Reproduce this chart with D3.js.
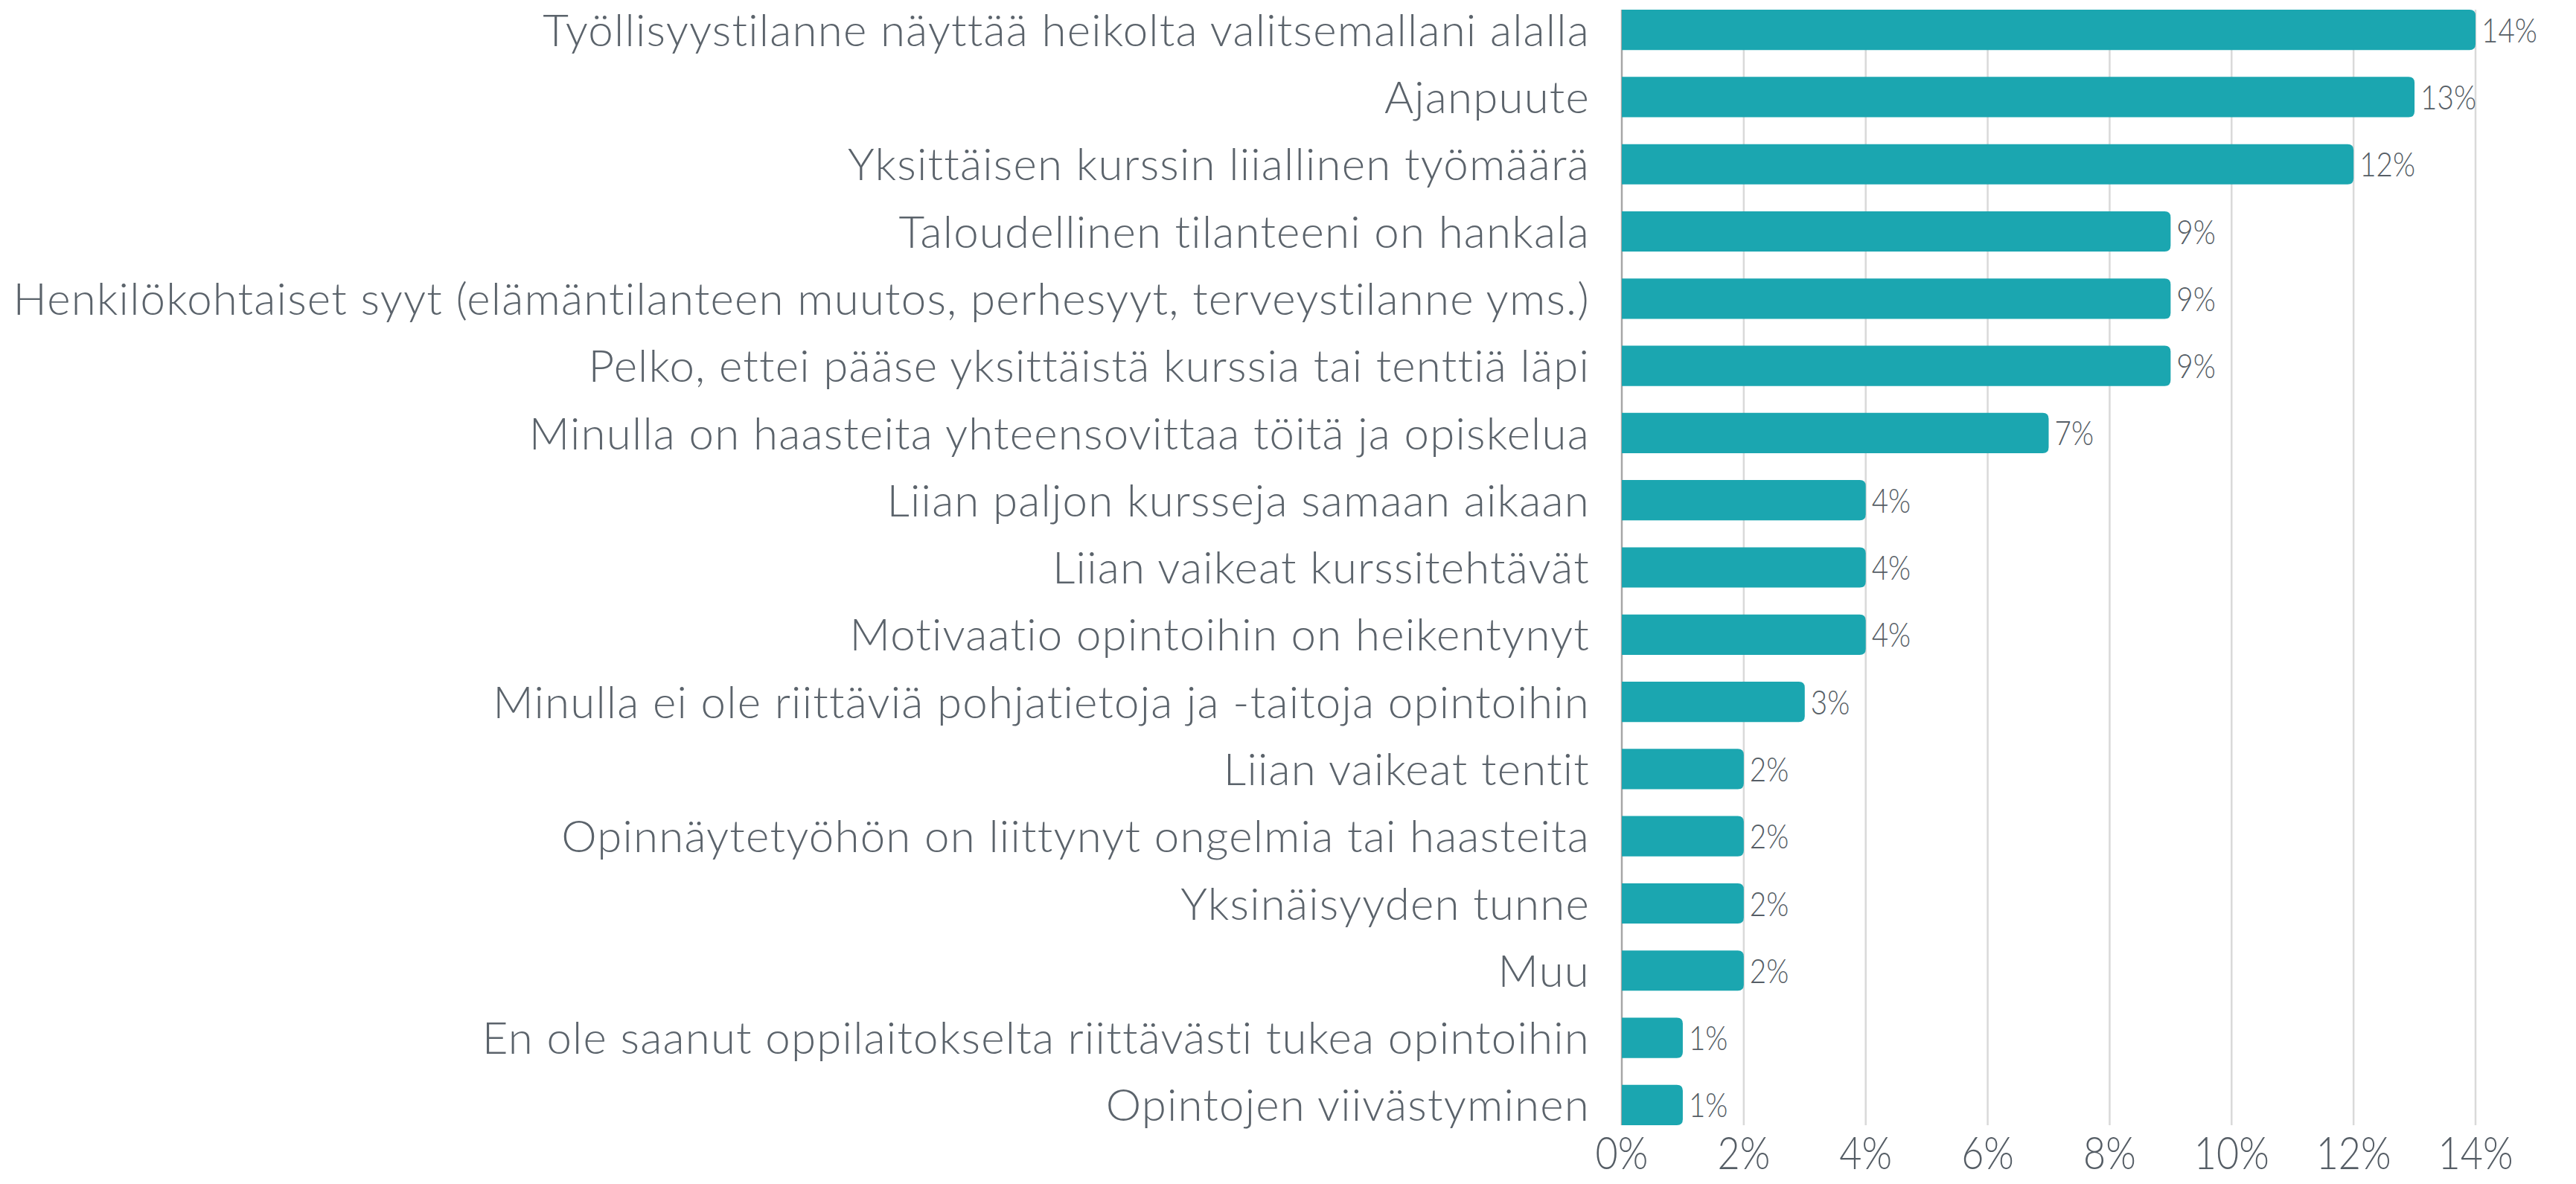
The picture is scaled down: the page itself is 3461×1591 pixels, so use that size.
<!DOCTYPE html>
<html lang="fi">
<head>
<meta charset="UTF-8"/>
<title>Syyt</title>
<script src="https://d3js.org/d3.v7.min.js"></script>
<style>
  body { margin: 0; background: #fff; }
  .cat { font-family: Lato, "Open Sans", sans-serif; font-weight: 300; font-size: 60px; letter-spacing: 1.2px; fill: #5b636b; }
  .num { font-family: Lato, "Open Sans", sans-serif; font-weight: 300; fill: #555d65; }
</style>
</head>
<body>
<div id="chart"></div>
<script>
// data
var categories = [
  "Työllisyystilanne näyttää heikolta valitsemallani alalla",
  "Ajanpuute",
  "Yksittäisen kurssin liiallinen työmäärä",
  "Taloudellinen tilanteeni on hankala",
  "Henkilökohtaiset syyt (elämäntilanteen muutos, perhesyyt, terveystilanne yms.)",
  "Pelko, ettei pääse yksittäistä kurssia tai tenttiä läpi",
  "Minulla on haasteita yhteensovittaa töitä ja opiskelua",
  "Liian paljon kursseja samaan aikaan",
  "Liian vaikeat kurssitehtävät",
  "Motivaatio opintoihin on heikentynyt",
  "Minulla ei ole riittäviä pohjatietoja ja -taitoja opintoihin",
  "Liian vaikeat tentit",
  "Opinnäytetyöhön on liittynyt ongelmia tai haasteita",
  "Yksinäisyyden tunne",
  "Muu",
  "En ole saanut oppilaitokselta riittävästi tukea opintoihin",
  "Opintojen viivästyminen"
]
var values = [14, 13, 12, 9, 9, 9, 7, 4, 4, 4, 3, 2, 2, 2, 2, 1, 1]
var ticks = [0, 2, 4, 6, 8, 10, 12, 14]

var width = 3461,
    height = 1591,
    squeeze = 0.84   // numbers look condensed in the original

var svg = d3.select("#chart")
  .append("svg")
    .attr("width", width)
    .attr("height", height)

var x = d3.scaleLinear()
  .domain([0, 14])
  .range([2179, 3326])

var y = d3.scaleBand()
  .domain(categories)
  .range([-5, 1530])
  .paddingInner(0.4)
  .paddingOuter(0.2)

var gridTop = y(categories[0])
var gridBottom = y(categories[categories.length - 1]) + y.bandwidth()

// vertical gridlines
svg.append("g")
  .selectAll("line")
  .data(ticks.slice(1))
  .enter()
  .append("line")
    .attr("x1", function(d) { return x(d) })
    .attr("x2", function(d) { return x(d) })
    .attr("y1", gridTop)
    .attr("y2", gridBottom)
    .attr("stroke", "#d9d9d9")
    .attr("stroke-width", 2.5)

// axis line at zero
svg.append("line")
  .attr("x1", x(0)).attr("x2", x(0))
  .attr("y1", gridTop).attr("y2", gridBottom)
  .attr("stroke", "#a6a6a6")
  .attr("stroke-width", 2.5)

// bars with rounded right end
var r = 8
function barPath(d, i) {
  var x0 = x(0), x1 = x(d), y0 = y(categories[i]), h = y.bandwidth()
  return "M" + x0 + "," + y0 +
    "H" + (x1 - r) +
    "Q" + x1 + "," + y0 + " " + x1 + "," + (y0 + r) +
    "V" + (y0 + h - r) +
    "Q" + x1 + "," + (y0 + h) + " " + (x1 - r) + "," + (y0 + h) +
    "H" + x0 + "Z"
}

svg.append("g")
  .selectAll("path")
  .data(values)
  .enter()
  .append("path")
    .attr("d", barPath)
    .attr("fill", "#1ba6b0")

// value labels
svg.append("g")
  .selectAll("text")
  .data(values)
  .enter()
  .append("text")
    .attr("class", "num")
    .attr("transform", function(d, i) {
      return "translate(" + (x(d) + 8) + "," + (y(categories[i]) + y.bandwidth() / 2) + ") scale(" + squeeze + ",1)"
    })
    .attr("dy", "0.36em")
    .style("font-size", "46px")
    .text(function(d) { return d + "%" })

// category labels
svg.append("g")
  .selectAll("text")
  .data(categories)
  .enter()
  .append("text")
    .attr("class", "cat")
    .attr("x", x(0) - 43)
    .attr("y", function(d) { return y(d) + y.bandwidth() / 2 })
    .attr("dy", "0.36em")
    .attr("text-anchor", "end")
    .text(function(d) { return d })

// x tick labels
svg.append("g")
  .selectAll("text")
  .data(ticks)
  .enter()
  .append("text")
    .attr("class", "num")
    .attr("transform", function(d) { return "translate(" + x(d) + ",1549) scale(" + squeeze + ",1)" })
    .attr("dy", "0.36em")
    .attr("text-anchor", "middle")
    .style("font-size", "62px")
    .text(function(d) { return d + "%" })
</script>
</body>
</html>
